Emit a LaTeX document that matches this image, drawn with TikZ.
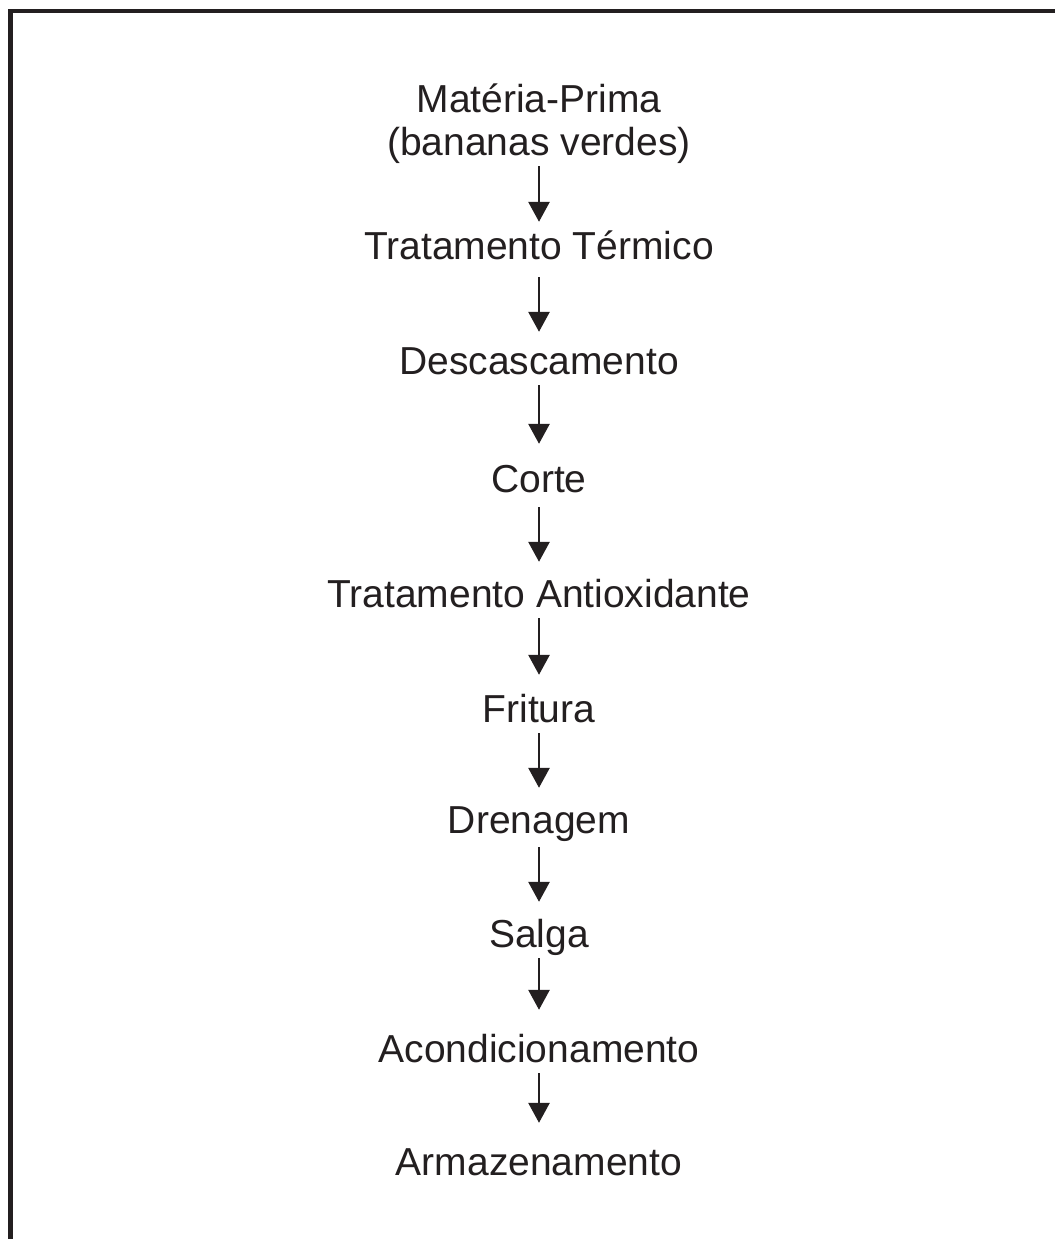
\documentclass[tikz,border=0pt]{standalone}
\usepackage{fontspec}
\setmainfont{Liberation Sans}
\usetikzlibrary{arrows.meta}
\definecolor{ink}{HTML}{231F20}
\begin{document}
\begin{tikzpicture}[x=1pt,y=-1pt,
  stage/.style={inner sep=0pt, anchor=base, text=ink, text height=28pt, text depth=0pt,
    font=\fontsize{39}{43}\selectfont},
  flow/.style={draw=ink, line width=2.8pt, -{Triangle[width=21pt,length=20pt]}, shorten <=11pt}]
\useasboundingbox (0,0) rectangle (1055,1239);
\fill[white] (0,0) rectangle (1055,1239);
\draw[ink, line width=4.6pt] (10.5,1239) -- (10.5,11) -- (1055,11);

\node[stage, text height=71pt, align=center] (mp) at (539,155) {Matéria-Prima\\(bananas verdes)};
\node[stage] (tt) at (539,259) {Tratamento Térmico};
\node[stage] (de) at (539,374) {Descascamento};
\node[stage] (co) at (539,492) {Corte};
\node[stage] (ta) at (539,607) {Tratamento Antioxidante};
\node[stage] (fr) at (539,722) {Fritura};
\node[stage] (dr) at (539,833) {Drenagem};
\node[stage] (sa) at (539,947) {Salga};
\node[stage] (ac) at (539,1062) {Acondicionamento};
\node[stage] (ar) at (539,1175) {Armazenamento};

\draw[flow, shorten >=9pt] (mp.south) -- (tt.north);
\draw[flow, shorten <=18pt, shorten >=14pt] (tt.south) -- (de.north);
\draw[flow, shorten >=20pt] (de.south) -- (co.north);
\draw[flow, shorten <=15pt, shorten >=17pt] (co.south) -- (ta.north);
\draw[flow, shorten >=19pt] (ta.south) -- (fr.north);
\draw[flow, shorten >=17pt] (fr.south) -- (dr.north);
\draw[flow, shorten <=14pt, shorten >=17pt] (dr.south) -- (sa.north);
\draw[flow, shorten >=24pt] (sa.south) -- (ac.north);
\draw[flow, shorten >=24pt] (ac.south) -- (ar.north);
\end{tikzpicture}
\end{document}
